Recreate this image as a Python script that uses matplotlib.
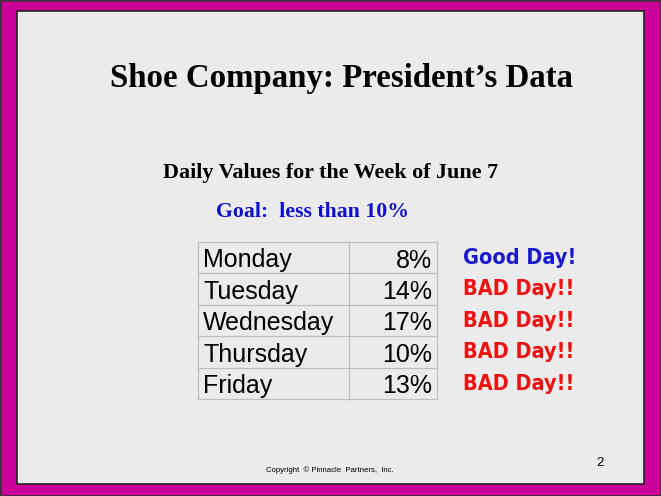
import matplotlib
matplotlib.use("Agg")
import matplotlib.pyplot as plt
from matplotlib.patches import Rectangle

# ---- data ----
days = ["Monday", "Tuesday", "Wednesday", "Thursday", "Friday"]
values = [8, 14, 17, 10, 13]
goal = 10
verdicts = ["Good Day!" if v < goal else "BAD Day!!" for v in values]

title = "Shoe Company: President\u2019s Data"
subtitle = "Daily Values for the Week of June 7"
goal_text = "Goal:  less than 10%"
copyright_text = "Copyright  \u00a9 Pinnacle  Partners,  Inc."
page_no = "2"

W, H = 661, 496
fig = plt.figure(figsize=(W / 100, H / 100), dpi=100)
ax = fig.add_axes([0, 0, 1, 1])
ax.set_xlim(0, W)
ax.set_ylim(H, 0)
ax.axis("off")

magenta = "#CC0099"
bg = "#EBEBEB"
fig.patch.set_facecolor(magenta)
ax.add_patch(Rectangle((0.5, 0.5), W - 1, H - 1, facecolor=magenta,
                       edgecolor="#333333", lw=1.2))
ax.add_patch(Rectangle((17, 11), 627, 473, facecolor=bg,
                       edgecolor="#222222", lw=1.2))

serif = ["Liberation Serif", "DejaVu Serif"]
sans = ["Liberation Sans", "DejaVu Sans"]
hand = ["DejaVu Sans"]

ax.text(341, 87, title, fontsize=23.7, fontweight="bold", family=serif,
        ha="center", va="baseline", color="black")
ax.text(331, 178, subtitle, fontsize=15.8, fontweight="bold", family=serif,
        ha="center", va="baseline", color="black")
ax.text(313, 217, goal_text, fontsize=15.7, fontweight="bold", family=serif,
        ha="center", va="baseline", color="#1010CC")

# ---- table ----
x0, xs, x1 = 198, 349, 437
y0, rh = 242, 31.4
n = len(days)
line_c = "#BDBDBD"
for i in range(n + 1):
    ax.plot([x0, x1], [y0 + i * rh] * 2, color=line_c, lw=0.9)
for x in (x0, xs, x1):
    ax.plot([x, x], [y0, y0 + n * rh], color=line_c, lw=0.9)

for i, (d, v, t) in enumerate(zip(days, values, verdicts)):
    top = y0 + i * rh
    ax.text(x0 + 5, top + 25.5, d, fontsize=18, family=sans, ha="left",
            va="baseline", color="black")
    ax.text(x1 - 5, top + 25.5, f"{v}%", fontsize=18, family=sans, ha="right",
            va="baseline", color="black")
    col = "#1A1ACC" if v < goal else "#EE1111"
    ax.text(463, top + 22, t, fontsize=15.5, fontweight="bold", family=hand,
            fontstretch="condensed", ha="left", va="baseline", color=col)

ax.text(266, 472, copyright_text, fontsize=5.6, family=sans, ha="left",
        va="baseline", color="black")
ax.text(600, 466, page_no, fontsize=9.5, family=sans, ha="center",
        va="baseline", color="black")

fig.savefig("out.png", dpi=100, facecolor=magenta)
